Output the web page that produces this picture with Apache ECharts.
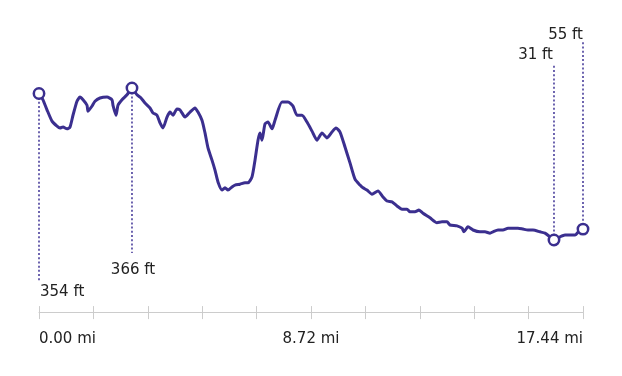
<!DOCTYPE html>
<html>
<head>
<meta charset="utf-8">
<script src="https://cdn.jsdelivr.net/npm/echarts@6/dist/echarts.min.js"></script>
<style>
html,body{margin:0;padding:0;background:#fff;}
#chart{width:622px;height:376px;}
</style>
</head>
<body>
<div id="chart"></div>
<script>
// Distance along route (miles)
const distMi = [0.000,0.128,0.256,0.417,0.577,0.673,0.770,0.898,0.994,1.090,1.218,1.314,1.411,1.539,1.571,1.699,1.795,1.956,2.180,2.340,2.372,2.469,2.533,2.661,2.821,2.981,3.142,3.270,3.398,3.559,3.655,3.783,3.879,3.975,4.104,4.200,4.296,4.424,4.520,4.584,4.681,4.841,5.001,5.097,5.225,5.322,5.418,5.546,5.642,5.738,5.867,5.963,6.059,6.187,6.283,6.444,6.604,6.700,6.829,6.925,7.021,7.085,7.149,7.245,7.341,7.470,7.566,7.790,7.983,8.143,8.271,8.431,8.592,8.752,8.912,9.073,9.233,9.393,9.521,9.650,9.810,9.970,10.131,10.291,10.387,10.515,10.676,10.868,11.028,11.156,11.317,11.477,11.637,11.798,11.894,12.054,12.182,12.311,12.535,12.759,12.920,13.080,13.176,13.401,13.561,13.625,13.753,13.913,14.138,14.298,14.459,14.555,14.715,14.875,15.036,15.196,15.356,15.516,15.677,15.837,16.061,16.222,16.382,16.510,16.703,16.863,17.023,17.184,17.344,17.440];
// Elevation (feet)
const elevFt = [354,340,318,293,282,278,280,276,280,306,337,346,340,328,315,326,337,344,346,340,328,306,328,340,351,366,351,344,333,322,311,306,289,278,302,313,306,320,318,311,302,313,322,313,295,267,234,207,185,159,141,146,141,148,152,154,157,157,170,207,251,267,251,287,291,276,295,335,335,326,306,306,291,271,251,267,256,269,278,269,236,201,165,152,146,141,132,139,126,117,115,106,99,99,93,93,97,90,80,69,71,71,64,62,57,49,60,53,49,49,46,49,53,53,57,57,57,55,53,53,49,46,38,31,38,42,42,42,53,55];
// X-axis tick values that carry labels
const xLabelValues = [0, 8.72, 17.44];
const xMax = 17.44;
const xTickStep = 1.744;

// Annotated points: start, highest, lowest, end
const maxIdx = elevFt.indexOf(Math.max(...elevFt));
const minIdx = elevFt.indexOf(Math.min(...elevFt));
const annotIdx = [0, maxIdx, minIdx, elevFt.length - 1];

// Layout of annotation callouts (pixel offsets from point) - styling only
const annotLayout = [
  { lineDy: 189, tx: 1, ty: 199, align: 'left' },
  { lineDy: 165, tx: 1, ty: 182, align: 'center' },
  { lineDy: -175, tx: -1, ty: -185, align: 'right' },
  { lineDy: -187, tx: 0, ty: -194, align: 'right' }
];

const PURPLE = '#3b2f8f';
const TEXT = '#222222';
const FONT = '"DejaVu Sans", sans-serif';

const chart = echarts.init(document.getElementById('chart'), null, { renderer: 'canvas' });

const isLabelTick = v => xLabelValues.some(t => Math.abs(t - v) < 1e-6);

chart.setOption({
  animation: false,
  backgroundColor: '#ffffff',
  grid: { left: 39, right: 39, top: 72.6, height: 239.5 },
  xAxis: [
    {
      type: 'value', min: 0, max: xMax, interval: xTickStep, position: 'bottom',
      axisLine: { show: true, onZero: false, lineStyle: { color: '#cccccc', width: 1 } },
      axisTick: { show: true, length: 7, lineStyle: { color: '#cccccc', width: 1 } },
      splitLine: { show: false },
      axisLabel: {
        show: true, margin: 20, color: TEXT, fontFamily: FONT, fontSize: 15,
        showMinLabel: true, showMaxLabel: true,
        alignMinLabel: 'left', alignMaxLabel: 'right',
        formatter: v => isLabelTick(v) ? v.toFixed(2) + ' mi' : ''
      }
    },
    {
      type: 'value', min: 0, max: xMax, interval: xTickStep, position: 'bottom',
      axisLine: { show: false, onZero: false },
      axisTick: { show: true, inside: true, length: 6, lineStyle: { color: '#cccccc', width: 1 } },
      splitLine: { show: false },
      axisLabel: { show: false }
    }
  ],
  yAxis: { type: 'value', min: -128, max: 400, show: false, splitLine: { show: false } },
  series: [
    {
      type: 'line',
      data: distMi.map((d, i) => [d, elevFt[i]]),
      showSymbol: false,
      symbol: 'none',
      smooth: 0.2,
      lineStyle: { color: PURPLE, width: 3 },
      z: 2
    },
    {
      type: 'custom',
      clip: false,
      z: 3,
      data: annotIdx.map(i => [distMi[i], elevFt[i]]),
      renderItem: function (params, api) {
        const p = api.coord([api.value(0), api.value(1)]);
        const L = annotLayout[params.dataIndex];
        return {
          type: 'group',
          children: [
            {
              type: 'line',
              shape: { x1: p[0], y1: p[1], x2: p[0], y2: p[1] + L.lineDy },
              style: { stroke: '#4a3f9c', lineWidth: 1.6, lineDash: [2, 2.2] }
            },
            {
              type: 'text',
              x: p[0] + L.tx, y: p[1] + L.ty,
              style: {
                text: api.value(1) + ' ft',
                fill: TEXT, font: '15px ' + FONT,
                align: L.align, verticalAlign: 'middle'
              }
            },
            {
              type: 'circle',
              shape: { cx: p[0], cy: p[1], r: 5.2 },
              style: { fill: '#ffffff', stroke: PURPLE, lineWidth: 2.5 }
            }
          ]
        };
      }
    }
  ]
});
</script>
</body>
</html>
